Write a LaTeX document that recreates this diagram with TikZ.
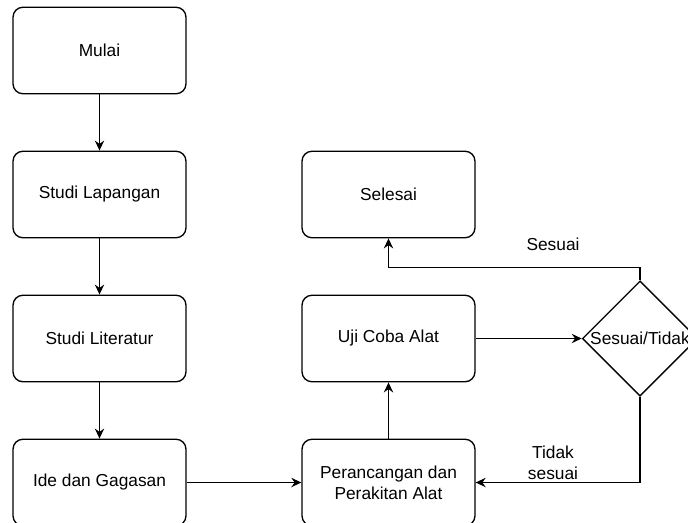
\documentclass[tikz,border=0pt]{standalone}
\usepackage{fontspec}
\setmainfont{Liberation Sans}
\usetikzlibrary{shapes.geometric,arrows.meta}

\begin{document}
\begin{tikzpicture}[x=0.75pt,y=-0.75pt,line width=1pt,
    every node/.style={font=\fontsize{13}{15.5}\selectfont},
    box/.style={draw,rounded corners=7.5pt,minimum width=129.75pt,minimum height=64.9pt,align=center},
    cek/.style={draw,diamond,minimum width=86.4pt,minimum height=86.4pt,inner sep=0pt},
    arr/.style={-{Stealth[length=7.5pt,width=7pt,inset=2.5pt]}}]
\useasboundingbox (0,0) rectangle (688,522);
\node[box] (mulai) at (99.5,50.5){Mulai};
\node[box] (lapangan) at (99.5,194.5){Studi Lapangan};
\node[box] (literatur) at (99.5,338.5){Studi Literatur};
\node[box] (ide) at (99.5,482.5){Ide dan Gagasan};
\node[box] (selesai) at (388.5,194.5){Selesai};
\node[box] (uji) at (388.5,338.5){Uji Coba Alat};
\node[box] (rancang) at (388.5,482.5){Perancangan dan\\Perakitan Alat};
\node[cek] (sesuai) at (640,338.5){};
\node (tekscek) at (sesuai.center){Sesuai/Tidak};

\draw[arr] (mulai)--(lapangan);
\draw[arr] (lapangan)--(literatur);
\draw[arr] (literatur)--(ide);
\draw[arr] (ide)--(rancang);
\draw[arr] (rancang)--(uji);
\draw[arr] (uji)--(sesuai);
\draw[arr] (sesuai.north)--++(0,-13)-|(selesai.south);
\draw[arr] (sesuai.south)|-(rancang.east);

\node (ya) at (553,244){Sesuai};
\node[align=center] (tidak) at (553,463){Tidak\\sesuai};
\end{tikzpicture}
\end{document}
